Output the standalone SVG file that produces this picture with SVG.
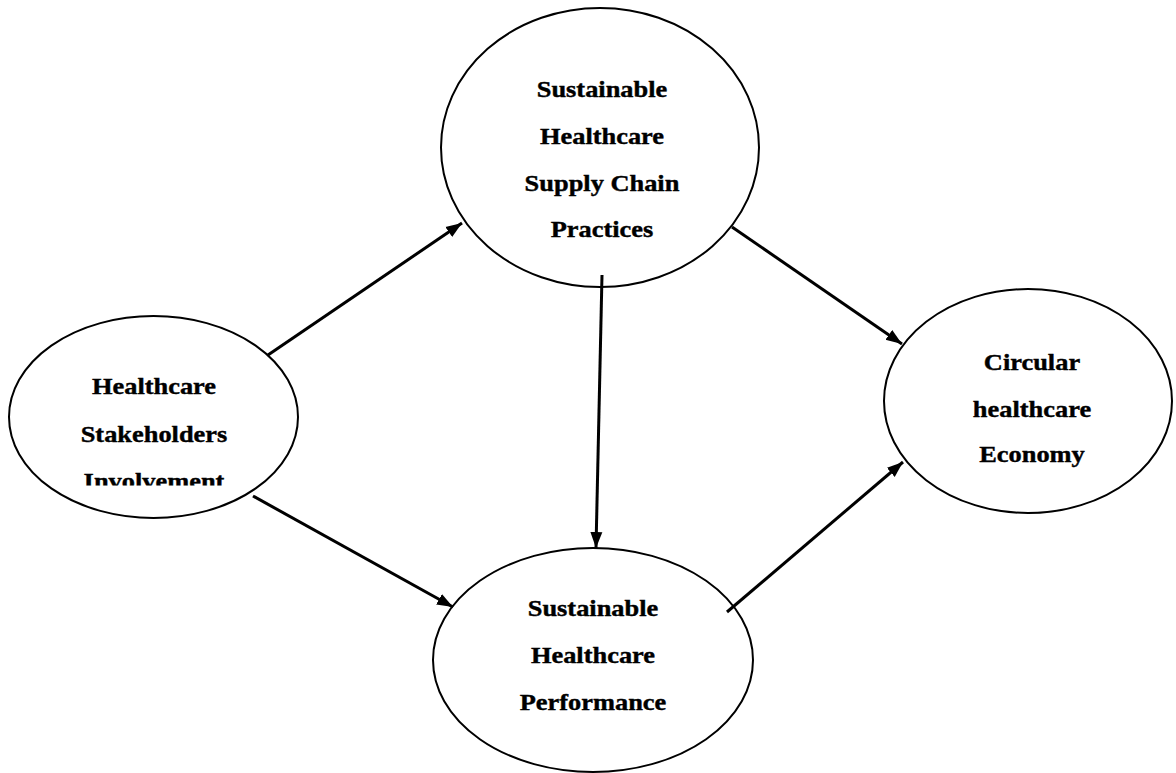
<svg xmlns="http://www.w3.org/2000/svg" width="1176" height="773" viewBox="0 0 1176 773">
<style>
.node{fill:#fff;stroke:#000;stroke-width:2}
.lbl{font-family:"Liberation Serif","Times New Roman",serif;font-weight:bold;font-size:24px;text-anchor:middle;fill:#000;stroke:#000;stroke-width:0.4}
.conn{stroke:#000;stroke-width:3;fill:none}
</style>
<defs>
<marker id="arr" markerUnits="userSpaceOnUse" markerWidth="18" markerHeight="14" refX="16" refY="7" orient="auto">
<path d="M0,1 L16,7 L0,13 Z" fill="#000"/>
</marker>
<clipPath id="clipInv"><rect x="0" y="0" width="320" height="485.5"/></clipPath>
</defs>
<rect width="1176" height="773" fill="#fff"/>
<g id="n-stakeholders">
<ellipse class="node" cx="153.5" cy="417" rx="144.5" ry="101"/>
<g transform="matrix(1.1 0 0 1 -15.4 0)" clip-path="url(#clipInv)">
<text class="lbl" x="154" y="394">Healthcare</text>
<text class="lbl" x="154" y="442">Stakeholders</text>
<text class="lbl" x="154" y="489">Involvement</text>
</g>
</g>
<g id="n-practices">
<ellipse class="node" cx="600" cy="147.5" rx="159" ry="139.5"/>
<g transform="matrix(1.1 0 0 1 -60.2 0)">
<text class="lbl" x="602" y="97">Sustainable</text>
<text class="lbl" x="602" y="144">Healthcare</text>
<text class="lbl" x="602" y="191">Supply Chain</text>
<text class="lbl" x="602" y="237">Practices</text>
</g>
</g>
<g id="n-performance">
<ellipse class="node" cx="593" cy="660" rx="160" ry="112"/>
<g transform="matrix(1.1 0 0 1 -59.3 0)">
<text class="lbl" x="593" y="616">Sustainable</text>
<text class="lbl" x="593" y="663">Healthcare</text>
<text class="lbl" x="593" y="710">Performance</text>
</g>
</g>
<g id="n-circular">
<ellipse class="node" cx="1028" cy="401" rx="144" ry="112"/>
<g transform="matrix(1.1 0 0 1 -103.2 0)">
<text class="lbl" x="1032" y="370">Circular</text>
<text class="lbl" x="1032" y="417">healthcare</text>
<text class="lbl" x="1032" y="462">Economy</text>
</g>
</g>
<g id="connectors">
<line class="conn" x1="268" y1="355" x2="462" y2="223" marker-end="url(#arr)"/>
<line class="conn" x1="253" y1="496" x2="453" y2="607" marker-end="url(#arr)"/>
<line class="conn" x1="602" y1="275" x2="596" y2="548" marker-end="url(#arr)"/>
<line class="conn" x1="732" y1="227" x2="902" y2="344" marker-end="url(#arr)"/>
<line class="conn" x1="727" y1="612" x2="903" y2="462" marker-end="url(#arr)"/>
</g>
</svg>
